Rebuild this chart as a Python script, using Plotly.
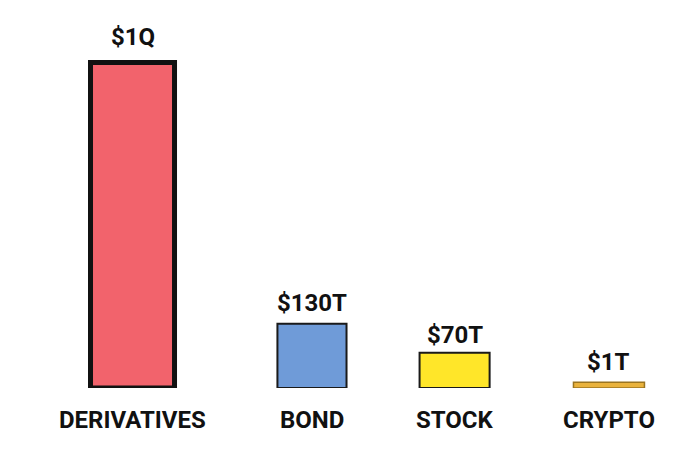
import plotly.graph_objects as go

# Data (bar heights are as drawn, not to scale)
categories = ['DERIVATIVES', 'BOND', 'STOCK', 'CRYPTO']
bar_heights = [100, 19.7, 10.8, 1.8]
value_labels = ['$1Q', '$130T', '$70T', '$1T']

# Styling per bar
fill_colors = ['#F2636C', '#6F9BD8', '#FFE629', '#E9B23C']
line_colors = ['#111111', '#1a1a1a', '#1a1a1a', '#9a7420']
line_widths = [5, 2, 2, 1.5]
bar_widths = [0.529, 0.435, 0.441, 0.447]
x_shifts = [0, 0.130, 0.028, 0]          # nudges in category units
label_yshift = [9, 5, 2, 4]

offsets = [s - w / 2 for s, w in zip(x_shifts, bar_widths)]

fig = go.Figure(go.Bar(
    x=categories,
    y=bar_heights,
    width=bar_widths,
    offset=offsets,
    marker=dict(color=fill_colors,
                line=dict(color=line_colors, width=line_widths)),
    hoverinfo='skip',
))

font_txt = dict(family='Roboto', size=24, color='#111111', weight=700)

for i, (cat, h, lab) in enumerate(zip(categories, bar_heights, value_labels)):
    # value above each bar
    fig.add_annotation(x=i + x_shifts[i], y=h, text=lab, showarrow=False,
                       yanchor='bottom', yshift=label_yshift[i], font=font_txt)
    # category name under each bar
    fig.add_annotation(x=i + x_shifts[i], y=0, text=cat, showarrow=False,
                       yanchor='top', yshift=-16, font=font_txt)

# page body has an 8px margin, so the figure is 8px smaller than the window
fig.update_layout(
    width=671, height=452,
    margin=dict(l=0, r=0, t=0, b=72),
    plot_bgcolor='white', paper_bgcolor='white',
    showlegend=False,
    xaxis=dict(type='category', range=[-0.784, 3.441], visible=False),
    yaxis=dict(range=[0, 116.7], visible=False),
)

fig.write_html("out.html")
